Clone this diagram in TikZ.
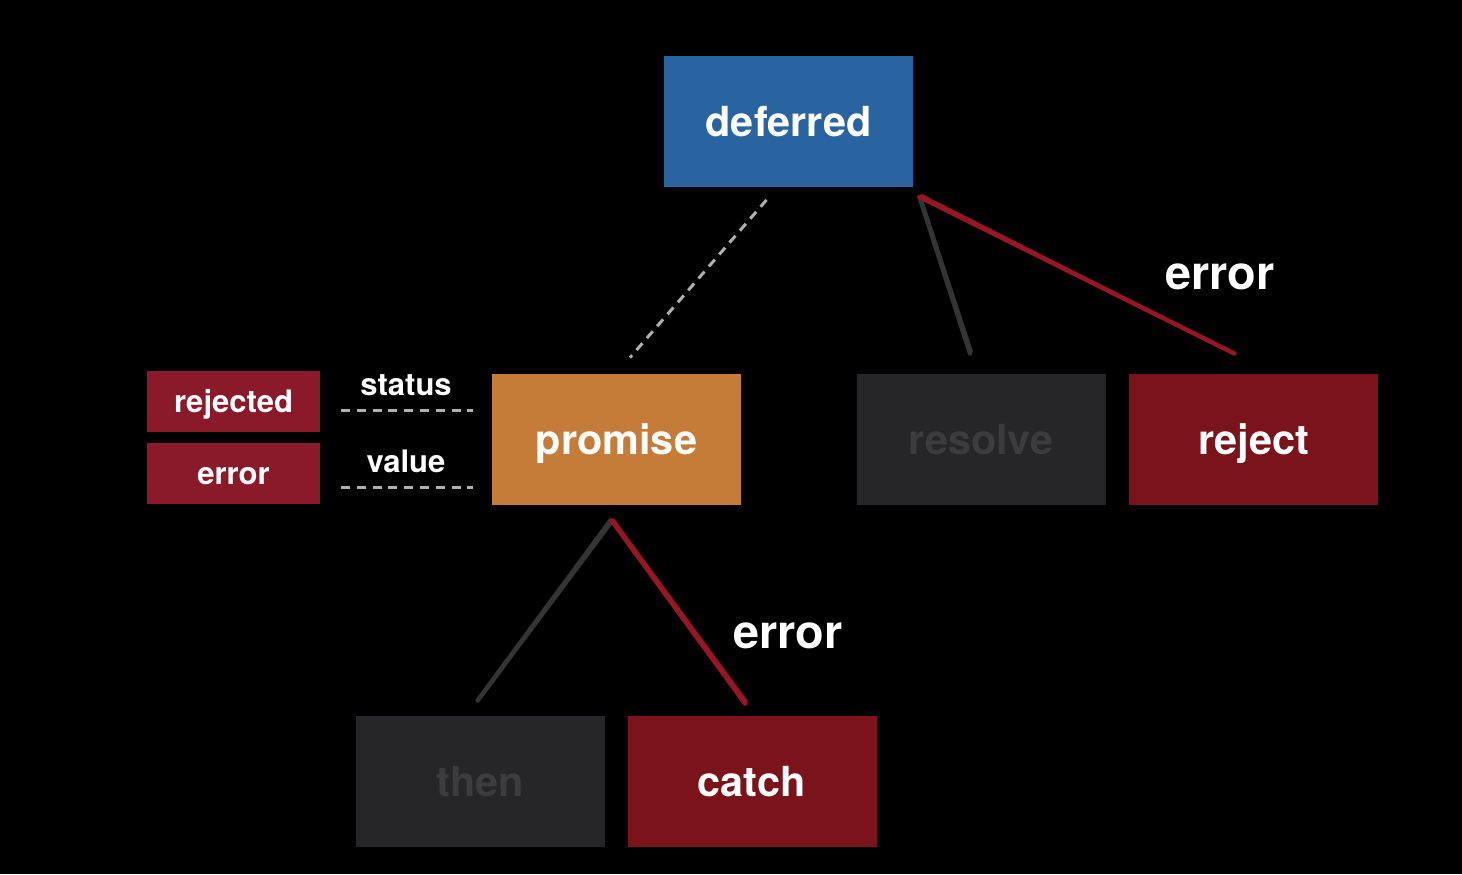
\documentclass[tikz,border=0pt]{standalone}
\usepackage{fontspec}
\setmainfont{TeX Gyre Heros}
\usetikzlibrary{calc}
\definecolor{bgc}{RGB}{0,0,0}
\definecolor{blueb}{RGB}{42,100,160}
\definecolor{orangeb}{RGB}{196,124,56}
\definecolor{redb}{RGB}{122,20,26}
\definecolor{redsmall}{RGB}{138,26,42}
\definecolor{grayb}{RGB}{38,38,40}
\definecolor{graytxt}{RGB}{60,60,62}
\definecolor{grayline}{RGB}{52,52,52}
\definecolor{redline}{RGB}{150,22,36}
\definecolor{dashc}{RGB}{175,175,175}
\tikzset{
  bigbox/.style={rectangle, inner sep=0pt, minimum width=124.5pt, minimum height=65.5pt, text height=15pt, text depth=0pt, text=white, font=\fontsize{20.7}{24}\selectfont\bfseries},
  smallbox/.style={rectangle, inner sep=0pt, minimum width=86.5pt, minimum height=30.5pt, text height=11pt, text depth=0pt, fill=redsmall, text=white, font=\fontsize{15.5}{18}\selectfont\bfseries},
  lbl/.style={text=white, inner sep=0pt, font=\fontsize{15.5}{18}\selectfont\bfseries},
  errlbl/.style={text=white, inner sep=0pt, font=\fontsize{23.4}{28}\selectfont\bfseries},
  dashln/.style={draw=dashc, line width=1.5pt, dash pattern=on 4.5pt off 3.4pt},
  grayconn/.style={draw=grayline, line width=2.2pt, line cap=round},
  redconn/.style={draw=redline, line width=2.2pt, line cap=round},
}
\begin{document}
\begin{tikzpicture}[x=0.5pt,y=-0.5pt]
\fill[bgc] (0,0) rectangle (1462,874);
\useasboundingbox (0,0) rectangle (1462,874);
% boxes
\node[bigbox, fill=blueb] (deferred) at (788.5,121) {deferred};
\node[bigbox, fill=orangeb] (promise) at (616.5,439.5) {promise};
\node[bigbox, fill=grayb, text=graytxt] (resolve) at (981,439.5) {resolve};
\node[bigbox, fill=redb] (reject) at (1253.5,439.5) {reject};
\node[bigbox, fill=grayb, text=graytxt] (then) at (480.5,781.5) {then};
\node[bigbox, fill=redb] (catch) at (752,781.5) {catch};
\node[smallbox] (rejected) at (233.5,401) {rejected};
\node[smallbox] (errsmall) at (233.5,473) {error};
% labels
\node[lbl] (status) at (406,385) {status};
\node[lbl] (value) at (406,461) {value};
\node[errlbl] (err1) at (1220,277) {error};
\node[errlbl] (err2) at (788,636) {error};
% dashed connectors
\coordinate (s1) at (341,410);
\coordinate (s2) at (473,410);
\coordinate (v1) at (341,487);
\coordinate (v2) at (473,487);
\draw[dashln] (s1) -- (s2);
\draw[dashln] (v1) -- (v2);
\draw[dashln] ($(deferred.south)+(-22,13)$) -- ($(promise.north)+(13.5,-16)$);
% sketchy connectors from deferred
\draw[grayconn] ($(deferred.south east)+(6,10)$) -- ($(resolve.north)+(-11,-20)$);
\draw[grayconn, line width=1pt] ($(deferred.south east)+(8,11)$) -- ($(resolve.north)+(-9,-22)$);
\draw[redconn] ($(deferred.south east)+(6,10)$) -- ($(reject.north)+(-19,-20)$);
\draw[redconn, line width=1pt] ($(deferred.south east)+(8,8)$) -- ($(reject.north)+(-22,-22)$);
% sketchy connectors from promise
\draw[grayconn] ($(promise.south)+(-6,15)$) -- ($(then.north)+(-3,-15)$);
\draw[grayconn, line width=1pt] ($(promise.south)+(-4,17)$) -- ($(then.north)+(0,-17)$);
\draw[redconn] ($(promise.south)+(-5,15)$) -- ($(catch.north)+(-7,-12)$);
\draw[redconn, line width=1pt] ($(promise.south)+(-3,14)$) -- ($(catch.north)+(-5,-14)$);
\end{tikzpicture}
\end{document}
